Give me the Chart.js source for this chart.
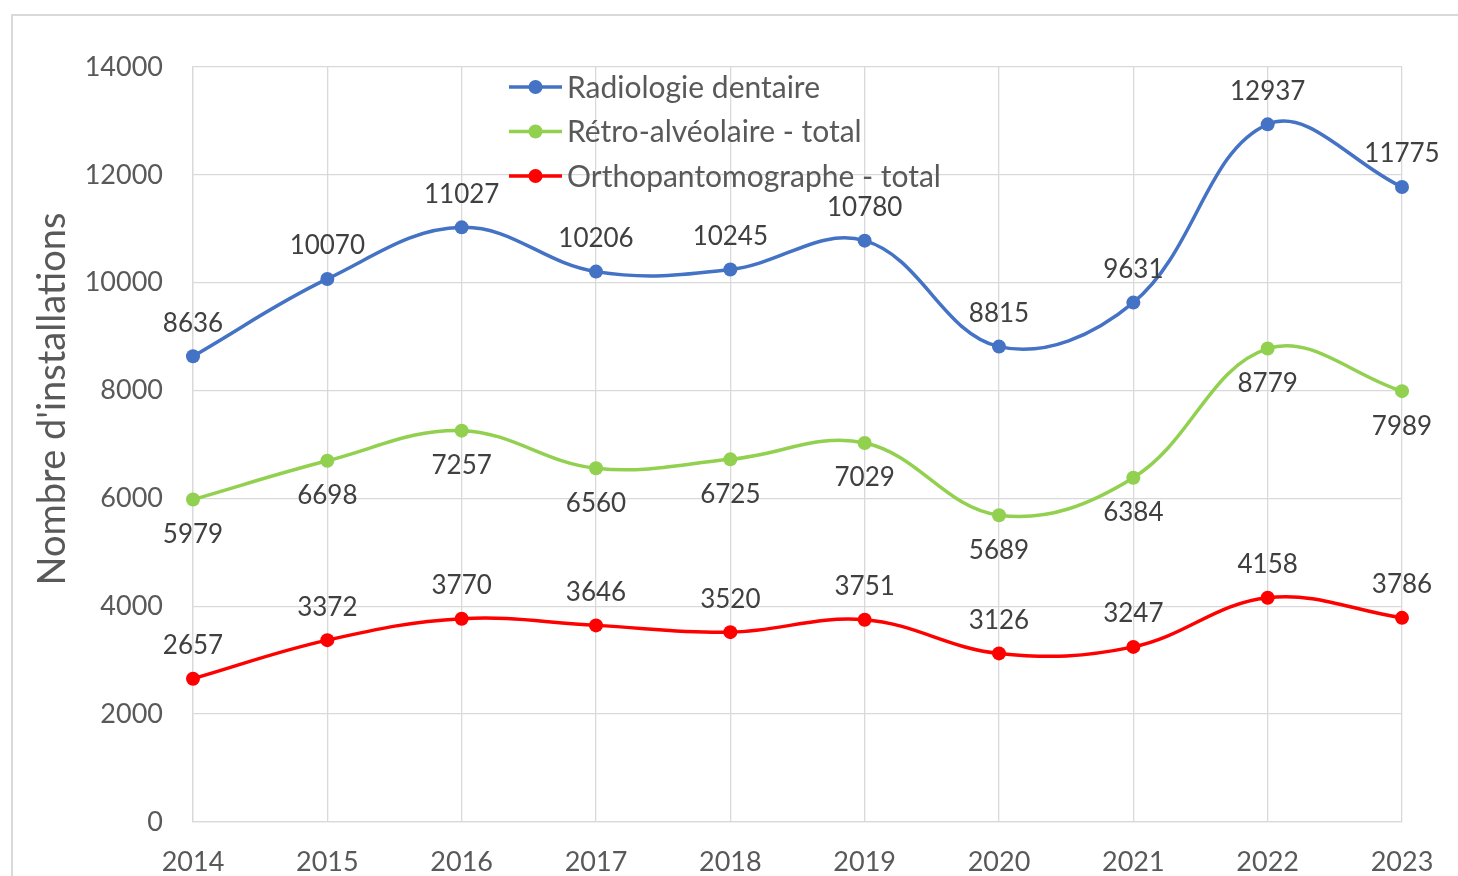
<!DOCTYPE html>
<html>
<head>
<meta charset="utf-8">
<script src="https://cdn.jsdelivr.net/npm/chart.js@4.4.1/dist/chart.umd.min.js"></script>
<style>
  body { margin: 0; background: #fff; }
  canvas { display: block; }
</style>
</head>
<body>
<canvas id="chart" width="1458" height="876"></canvas>
<script>
// data
const years = ["2014", "2015", "2016", "2017", "2018", "2019", "2020", "2021", "2022", "2023"];
const radiologie = [8636, 10070, 11027, 10206, 10245, 10780, 8815, 9631, 12937, 11775];
const retro = [5979, 6698, 7257, 6560, 6725, 7029, 5689, 6384, 8779, 7989];
const ortho = [2657, 3372, 3770, 3646, 3520, 3751, 3126, 3247, 4158, 3786];
const seriesNames = ["Radiologie dentaire", "Rétro-alvéolaire - total", "Orthopantomographe - total"];
const seriesColors = ["#4472C4", "#92D050", "#FF0000"];
// where the value label goes: -1 above the point, 1 below
const labelSide = [-1, 1, -1];
const yTitle = "Nombre d'installations";

const FONT = "Lato, 'Open Sans', sans-serif";
const TEXT = "#595959";

function makeSet(i, values) {
  return {
    label: seriesNames[i],
    data: values,
    borderColor: seriesColors[i],
    backgroundColor: seriesColors[i],
    borderWidth: 3.5,
    pointRadius: 7,
    pointHoverRadius: 7,
    pointBorderWidth: 0,
    tension: 0.38,
    clip: false
  };
}

// frame, axis title, legend and value labels
const extras = {
  id: "extras",
  beforeDraw(chart) {
    const ctx = chart.ctx;
    ctx.save();
    ctx.fillStyle = "#fff";
    ctx.fillRect(0, 0, chart.width, chart.height);
    ctx.strokeStyle = "#d9d9d9";
    ctx.lineWidth = 2;
    ctx.strokeRect(12, 15, chart.width + 20, chart.height + 20);
    ctx.restore();
  },
  afterDatasetsDraw(chart) {
    const ctx = chart.ctx;
    ctx.save();
    // value labels
    ctx.font = "26px " + FONT;
    ctx.fillStyle = "#404040";
    ctx.textAlign = "center";
    ctx.textBaseline = "middle";
    chart.data.datasets.forEach((ds, i) => {
      const meta = chart.getDatasetMeta(i);
      meta.data.forEach((pt, j) => {
        ctx.fillText(String(ds.data[j]), pt.x, pt.y + labelSide[i] * 34 + 1);
      });
    });
    // legend
    ctx.textAlign = "left";
    ctx.font = "30px " + FONT;
    chart.data.datasets.forEach((ds, i) => {
      const y = 87 + i * 44.5;
      ctx.strokeStyle = ds.borderColor;
      ctx.lineWidth = 3.5;
      ctx.beginPath();
      ctx.moveTo(509, y);
      ctx.lineTo(562, y);
      ctx.stroke();
      ctx.fillStyle = ds.borderColor;
      ctx.beginPath();
      ctx.arc(535.5, y, 7, 0, Math.PI * 2);
      ctx.fill();
      ctx.fillStyle = TEXT;
      ctx.fillText(ds.label, 567, y + 1);
    });
    // y axis title
    ctx.translate(53, 399);
    ctx.rotate(-Math.PI / 2);
    ctx.textAlign = "center";
    ctx.font = "38px " + FONT;
    ctx.fillStyle = TEXT;
    ctx.fillText(yTitle, 0, 0);
    ctx.restore();
  }
};

new Chart(document.getElementById("chart"), {
  type: "line",
  data: {
    labels: years,
    datasets: [makeSet(0, radiologie), makeSet(1, retro), makeSet(2, ortho)]
  },
  options: {
    responsive: false,
    animation: false,
    events: [],
    layout: { padding: { top: 67, right: 56, left: 0, bottom: 0 } },
    plugins: {
      legend: { display: false },
      tooltip: { enabled: false }
    },
    scales: {
      x: {
        offset: false,
        grid: { color: "#d9d9d9", lineWidth: 1.3, offset: false, drawTicks: false },
        border: { color: "#d9d9d9", width: 1.3 },
        ticks: { color: TEXT, font: { family: FONT, size: 27 }, padding: 24, maxRotation: 0 },
        afterFit(scale) { scale.height = 876 - 822; }
      },
      y: {
        min: 0,
        max: 14000,
        ticks: {
          stepSize: 2000,
          color: TEXT,
          font: { family: FONT, size: 27 },
          padding: 30,
          callback: (v) => String(v)
        },
        grid: { color: "#d9d9d9", lineWidth: 1.3, drawTicks: false },
        border: { color: "#d9d9d9", width: 1.3 },
        afterFit(scale) { scale.width = 193; }
      }
    }
  },
  plugins: [extras]
});
</script>
</body>
</html>
